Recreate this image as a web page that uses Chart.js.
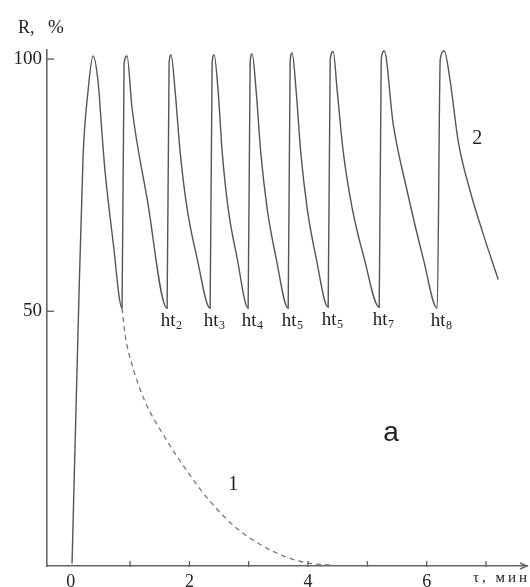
<!DOCTYPE html>
<html>
<head>
<meta charset="utf-8">
<script src="https://cdn.jsdelivr.net/npm/chart.js@4"></script>
<style>
html,body{margin:0;padding:0;background:#fff;}
#wrap{width:530px;height:587px;}
</style>
</head>
<body>
<div id="wrap"><canvas id="c" width="530" height="587"></canvas></div>
<script>
// Curve 2 (solid, repeated humidification cycles): time, min / R, %
const curve2T = [0.022,0.123,0.207,0.292,0.376,0.460,0.528,0.578,0.713,0.865,
  0.899,0.949,1.033,1.287,1.624,
  1.658,1.691,1.759,1.843,1.961,2.130,2.349,
  2.383,2.417,2.484,2.552,2.653,2.805,2.990,
  3.024,3.057,3.125,3.201,3.310,3.462,3.665,
  3.698,3.732,3.799,3.875,3.985,4.137,4.339,
  4.373,4.423,4.491,4.592,4.744,4.946,5.199,
  5.233,5.284,5.435,5.671,5.941,6.177,
  6.228,6.295,6.396,6.531,6.733,6.952,7.205];
const curve2R = [0,46.0,80.4,93.7,100.6,95.6,85.1,77.8,63.9,50.6,
  99.0,100.6,90.3,72.4,50.6,
  99.2,100.8,93.7,81.7,70.4,60.5,50.6,
  99.2,100.8,93.7,81.7,70.4,60.5,50.6,
  99.4,101.0,93.7,81.7,70.4,60.5,50.6,
  99.6,101.2,93.7,81.7,70.4,60.5,50.8,
  99.8,101.5,93.7,81.7,70.4,60.5,50.8,
  100.0,101.6,87.1,73.8,60.5,50.6,
  100.0,101.6,95.6,83.7,73.8,65.3,56.3];
// Curve 1 (dashed, single cycle)
const curve1T = [0.865,0.916,1.051,1.253,1.556,1.961,2.349,2.804,3.310,3.698,4.035,4.372];
const curve1R = [50.6,45.4,38.7,32.1,25.6,18.3,12.3,6.9,3.0,1.0,0,-0.3];
// ht labels at the minima of curve 2
const htNames = ['2','3','4','5','5','7','8'];
const htT = [1.624,2.349,2.990,3.665,4.339,5.199,6.177];
const htR = [50.6,50.6,50.6,50.6,50.8,50.8,50.6];
// axis ticks
const xTickValues = [0,1,2,3,4,5,6,7];
const xTickLabels = ['0','2','4','6'];
const yTickValues = [50,100];
// free text annotations (data units)
const notes = [
  {text:'2', t:6.85, r:84.3, font:'20px "Liberation Serif", serif'},
  {text:'1', t:2.74, r:15.7, font:'20px "Liberation Serif", serif'},
  {text:'a', t:5.4, r:25.8, font:'28px "Liberation Sans", Arial, sans-serif'}
];

const toPts = (xs, ys) => xs.map((x, i) => ({x: x, y: ys[i]}));

const annot = {
  id: 'annot',
  afterDraw(chart) {
    const ctx = chart.ctx, xs = chart.scales.x, ys = chart.scales.y;
    const ca = chart.chartArea;
    ctx.save();
    ctx.strokeStyle = '#666';
    ctx.lineWidth = 1.4;
    // x tick marks
    xTickValues.filter(v => v > 0).forEach(v => {
      const px = xs.getPixelForValue(v);
      ctx.beginPath(); ctx.moveTo(px, ca.bottom + 1); ctx.lineTo(px, ca.bottom - 5); ctx.stroke();
    });
    // y tick marks
    yTickValues.forEach(v => {
      const py = ys.getPixelForValue(v);
      ctx.beginPath(); ctx.moveTo(ca.left - 1, py); ctx.lineTo(ca.left + 7, py); ctx.stroke();
    });
    // arrow at end of x axis
    ctx.beginPath();
    ctx.moveTo(ca.right - 7, ca.bottom - 3);
    ctx.lineTo(ca.right, ca.bottom);
    ctx.lineTo(ca.right - 7, ca.bottom + 3);
    ctx.stroke();
    ctx.fillStyle = '#222';
    ctx.textBaseline = 'middle';
    // ht labels
    htNames.forEach((n, i) => {
      const px = xs.getPixelForValue(htT[i]) + 4;
      const py = ys.getPixelForValue(htR[i]) + 13;
      ctx.font = '19px "Liberation Serif", serif';
      const w1 = ctx.measureText('ht').width;
      ctx.font = '12px "Liberation Serif", serif';
      const w2 = ctx.measureText(n).width;
      const left = px - (w1 + w2) / 2;
      ctx.font = '19px "Liberation Serif", serif';
      ctx.textAlign = 'left';
      ctx.fillText('ht', left, py);
      ctx.font = '12px "Liberation Serif", serif';
      ctx.fillText(n, left + w1 + 0.5, py + 5);
    });
    // notes
    ctx.textAlign = 'center';
    notes.forEach(nt => {
      ctx.font = nt.font;
      ctx.fillText(nt.text, xs.getPixelForValue(nt.t), ys.getPixelForValue(nt.r));
    });
    // axis titles
    ctx.font = '18px "Liberation Serif", serif';
    ctx.textAlign = 'left';
    ctx.fillText('R,', ca.left - 29, ca.top - 22);
    ctx.font = '19px "Liberation Serif", serif';
    ctx.fillText('%', ca.left + 1, ca.top - 22);
    ctx.font = '15px "Liberation Serif", serif';
    ctx.letterSpacing = '3px';
    ctx.textAlign = 'right';
    ctx.fillText('τ, мин', ca.right + 3, ca.bottom + 12);
    ctx.restore();
  }
};

new Chart(document.getElementById('c'), {
  type: 'scatter',
  data: {
    datasets: [
      {
        label: '2',
        data: toPts(curve2T, curve2R),
        showLine: true,
        borderColor: '#555',
        borderWidth: 1.4,
        pointRadius: 0,
        cubicInterpolationMode: 'monotone',
        clip: false
      },
      {
        label: '1',
        data: toPts(curve1T, curve1R),
        showLine: true,
        borderColor: '#777',
        borderWidth: 1.3,
        borderDash: [5, 4],
        pointRadius: 0,
        cubicInterpolationMode: 'monotone',
        clip: false
      }
    ]
  },
  options: {
    responsive: false,
    animation: false,
    devicePixelRatio: 1,
    layout: { padding: { top: 50, right: 3, left: 0, bottom: 0 } },
    plugins: { legend: { display: false }, tooltip: { enabled: false } },
    scales: {
      x: {
        type: 'linear',
        min: -0.40,
        max: 7.69,
        afterFit: s => { s.height = 21; },
        afterBuildTicks: s => { s.ticks = xTickValues.map(v => ({ value: v })); },
        grid: { display: true, drawOnChartArea: false, drawTicks: false },
        border: { display: true, color: '#666', width: 1.6 },
        ticks: {
          padding: 5,
          color: '#222',
          autoSkip: false,
          maxRotation: 0,
          font: { family: '"Liberation Serif", serif', size: 18 },
          callback: v => (xTickLabels.includes(String(v)) ? String(v) : '')
        }
      },
      y: {
        type: 'linear',
        min: -0.5,
        max: 101.8,
        afterFit: s => { s.width = 47; },
        afterBuildTicks: s => { s.ticks = yTickValues.map(v => ({ value: v })); },
        grid: { display: true, drawOnChartArea: false, drawTicks: false },
        border: { display: true, color: '#666', width: 1.6 },
        ticks: {
          padding: 5,
          color: '#222',
          autoSkip: false,
          font: { family: '"Liberation Serif", serif', size: 19 },
          callback: v => String(v)
        }
      }
    }
  },
  plugins: [annot]
});
</script>
</body>
</html>
